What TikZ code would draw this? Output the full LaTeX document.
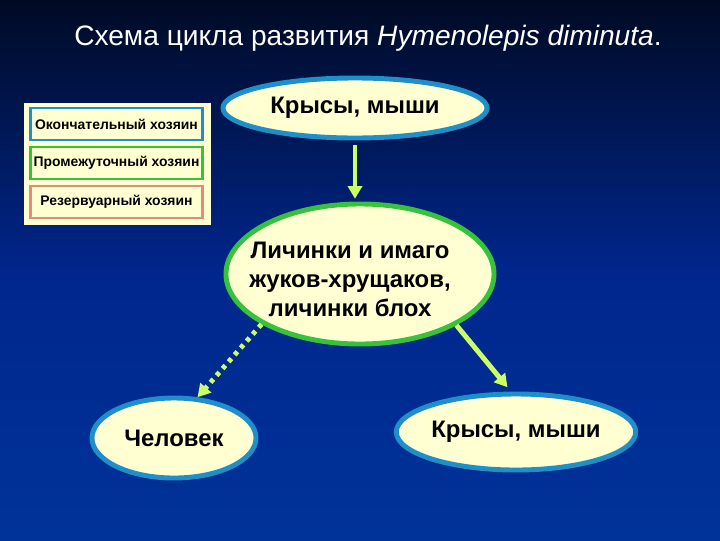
\documentclass[tikz,border=0pt]{standalone}
\usepackage{fontspec}
\setmainfont{Liberation Sans}
\usetikzlibrary{shapes,arrows.meta,positioning}
\definecolor{deepnavy}{HTML}{000A24}
\definecolor{midblue}{HTML}{00268C}
\definecolor{slideblue}{HTML}{003399}
\definecolor{cream}{HTML}{FFFFD2}
\definecolor{finalcol}{HTML}{1E8FC8}
\definecolor{intercol}{HTML}{36C23A}
\definecolor{reservecol}{HTML}{E48C7C}
\definecolor{arrowcol}{HTML}{CCFF66}

\begin{document}
\begin{tikzpicture}[x=0.025cm, y=-0.025cm,
  host/.style={ellipse, draw=#1, line width=3.5pt, fill=cream, inner sep=0pt, align=center, font=\fontsize{17}{20.6}\selectfont\bfseries},
  key/.style={rectangle, draw=#1, line width=2pt, fill=cream, minimum width=4.3cm, minimum height=0.8cm, inner sep=0pt, font=\fontsize{9.9}{11}\selectfont\bfseries},
  arr/.style={-{Triangle[length=9pt, width=10pt]}, arrowcol, line width=3.5pt}
]
  \shade[top color=deepnavy, bottom color=slideblue, middle color=midblue] (0,0) rectangle (720,540);
  \useasboundingbox (0,0) rectangle (720,540);
  % title
  \node[white, font=\fontsize{20}{24}\selectfont] (title) at (368,38) {Схема цикла развития \textit{Hymenolepis diminuta}.};
  % legend
  \node[rectangle, fill=cream, minimum width=4.65cm, minimum height=3.05cm] (legend) at (117.5,164) {};
  \node[key=finalcol] (final) at (116.5,124) {Окончательный хозяин};
  \node[key=intercol] (inter) at (116.5,163) {Промежуточный хозяин};
  \node[key=reservecol] (reserve) at (116.5,202) {Резервуарный хозяин};
  % hosts
  \node[host=finalcol, minimum width=6.6cm, minimum height=1.5cm] (rats1) at (355,108) {Крысы, мыши};
  \node[host=intercol, minimum width=6.7cm, minimum height=3.5cm] (larvae) at (360,274)
    {\hspace*{-0.5cm}\raisebox{-0.2cm}[\height][\depth]{\begin{tabular}{@{}c@{}}Личинки и имаго\\жуков-хрущаков,\\личинки блох\end{tabular}}};
  \node[host=finalcol, minimum width=4.1cm, minimum height=2cm] (human) at (174,438) {Человек};
  \node[host=finalcol, minimum width=5.3cm, minimum height=1.9cm] (rats2) at (516,432) {Крысы, мыши};
  % cycle
  \draw[arr, shorten <=3pt, shorten >=2pt] (rats1.south) -- (rats1.south |- larvae.north);
  \draw[arr, dash pattern=on 3pt off 3.5pt] (larvae.207) -- (human.60);
  \draw[arr, shorten >=4pt] (larvae.-28) -- (rats2.97);
\end{tikzpicture}
\end{document}
